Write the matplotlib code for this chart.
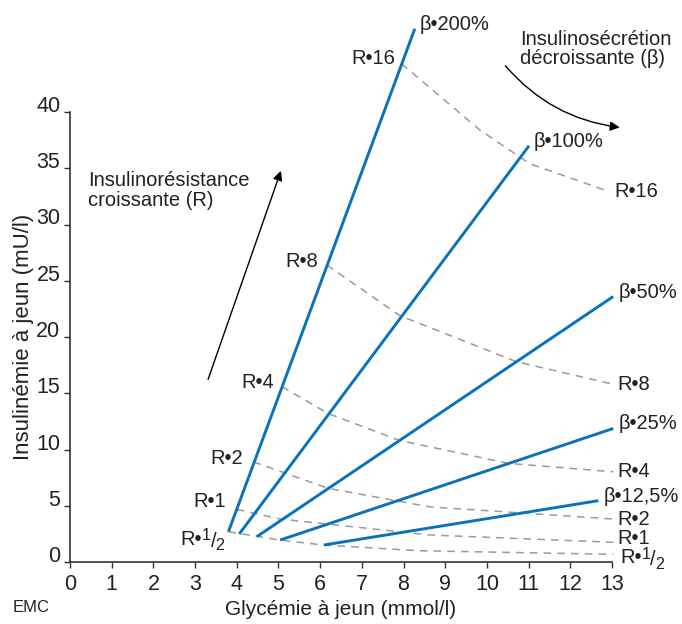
import matplotlib
matplotlib.use("Agg")
import matplotlib.pyplot as plt

plt.rcParams['font.family'] = ['Liberation Sans', 'DejaVu Sans']

# beta-cell function lines (start, end) in glycaemia / insulinaemia
beta_labels = ["β•200%", "β•100%", "β•50%", "β•25%", "β•12,5%"]
beta_x = [[3.80, 8.27], [4.06, 11.01], [4.48, 13.03], [5.04, 13.03], [6.09, 12.67]]
beta_y = [[2.69, 47.4], [2.49, 37.0], [2.25, 23.6], [1.95, 11.87], [1.51, 5.45]]

# insulin resistance iso-curves (last one is R = 1/2)
r_labels = ["R•16", "R•8", "R•4", "R•2", "R•1"]
r_x = [[7.95, 9.83, 11.03, 12.95],
       [6.16, 7.91, 10.71, 13.03],
       [5.08, 6.19, 7.91, 10.51, 13.03],
       [4.40, 6.19, 8.63, 13.03],
       [4.00, 5.04, 8.63, 13.03],
       [3.80, 5.04, 6.07, 8.39, 13.03]]
r_y = [[44.3, 38.4, 35.4, 32.9],
       [26.4, 21.9, 17.8, 15.8],
       [15.6, 13.2, 10.8, 8.77, 8.02],
       [8.9, 6.55, 4.9, 3.82],
       [4.68, 3.82, 2.4, 1.75],
       [2.69, 1.95, 1.51, 1.0, 0.68]]

blue = "#0a72bb"
grey = "#9a9a9a"
tc = '#222222'
fs = 14.5

fig = plt.figure(figsize=(6.82, 6.24), dpi=100)
ax = fig.add_axes([70/682, 62/624, 542/682, 450/624])
ax.set_xlim(0, 13)
ax.set_ylim(0, 40)

for xs, ys in zip(r_x, r_y):
    ax.plot(xs, ys, color=grey, lw=1.1, dashes=(5, 4), clip_on=False)
for xs, ys in zip(beta_x, beta_y):
    ax.plot(xs, ys, color=blue, lw=2.1, clip_on=False, solid_capstyle='butt')

# labels at the end of beta lines
for i, lab in enumerate(beta_labels):
    ax.text(beta_x[i][1] + 0.12, beta_y[i][1] + 0.4, lab, fontsize=fs,
            ha='left', va='center', color=tc)

# labels at the right end of R curves
r_right_dy = [0, 0, 0, 0, 0.35]
for i, lab in enumerate(r_labels):
    ax.text(r_x[i][-1] + 0.1, r_y[i][-1] + r_right_dy[i], lab, fontsize=fs,
            ha='left', va='center', color=tc)

# labels at the left end of R curves
r_left = [(7.8, 44.8), (5.95, 26.7), (4.9, 16.0), (4.15, 9.2), (3.75, 5.4)]
for lab, (x, y) in zip(r_labels, r_left):
    ax.text(x, y, lab, fontsize=fs, ha='right', va='center', color=tc)


def half_label(x, y, raise_pt=4.0):
    # "R•1/2" written with a raised 1 and a lowered 2
    t0 = ax.text(x, y, "R•", fontsize=fs, ha='left', va='baseline', color=tc,
                 clip_on=False)
    t1 = ax.annotate("1", xy=(1, y), xycoords=(t0, 'data'), xytext=(0.3, raise_pt),
                     textcoords='offset points', fontsize=fs*0.8,
                     ha='left', va='baseline', color=tc, annotation_clip=False)
    t2 = ax.annotate("/", xy=(1, y), xycoords=(t1, 'data'), xytext=(-0.3, -1.2),
                     textcoords='offset points', fontsize=fs,
                     ha='left', va='baseline', color=tc, annotation_clip=False)
    ax.annotate("2", xy=(1, y), xycoords=(t2, 'data'), xytext=(-0.6, -3.8),
                textcoords='offset points', fontsize=fs*0.8,
                ha='left', va='baseline', color=tc, annotation_clip=False)


half_label(2.64, 1.5)
half_label(13.19, -0.12, raise_pt=3.2)

# annotations
ax.text(0.43, 33.0, "Insulinorésistance\ncroissante (R)", fontsize=fs,
        ha='left', va='center', linespacing=1.05, color=tc)
ax.annotate("", xy=(5.08, 35.0), xytext=(3.29, 16.0),
            arrowprops=dict(arrowstyle='-|>', color='black', lw=1.0,
                            mutation_scale=14),
            annotation_clip=False)
ax.text(10.8, 45.6, "Insulinosécrétion\ndécroissante (β)", fontsize=fs,
        ha='left', va='center', linespacing=1.05, color=tc)
ax.annotate("", xy=(13.25, 38.6), xytext=(10.4, 44.3),
            arrowprops=dict(arrowstyle='-|>', color='black', lw=1.0,
                            mutation_scale=14,
                            connectionstyle='arc3,rad=0.2'),
            annotation_clip=False)

ax.spines['top'].set_visible(False)
ax.spines['right'].set_visible(False)
for s in ('left', 'bottom'):
    ax.spines[s].set_linewidth(1.2)
    ax.spines[s].set_color('#333333')

ax.set_xticks(range(0, 14))
ax.set_yticks(range(0, 45, 5))
ax.tick_params(direction='out', length=4, width=1.0, labelsize=15.5,
               colors='#333333', labelcolor=tc)
ax.tick_params(axis='y', pad=3)
ax.tick_params(axis='x', pad=5)
for lbl in ax.get_yticklabels():
    lbl.set_verticalalignment('baseline')

ax.set_xlabel("Glycémie à jeun (mmol/l)", fontsize=15, labelpad=3, color=tc)
ax.set_ylabel("Insulinémie à jeun (mU/l)", fontsize=16, labelpad=1.5, color=tc)

fig.text(31/682, 1 - 608/624, "EMC", fontsize=12, ha='center', va='center',
         family=['Liberation Sans Narrow', 'Liberation Sans', 'DejaVu Sans'],
         color=tc)

fig.savefig("out.png", dpi=100)
